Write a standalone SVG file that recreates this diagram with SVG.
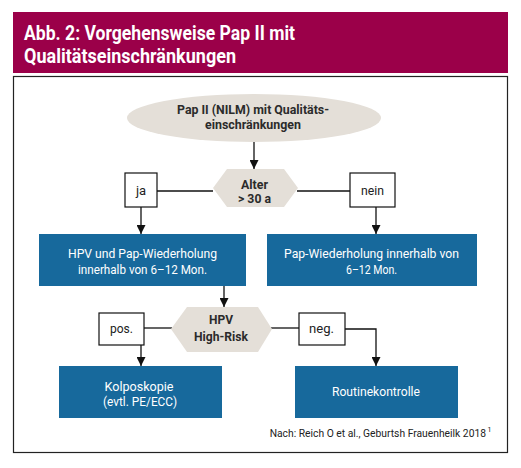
<svg xmlns="http://www.w3.org/2000/svg" width="521" height="468" viewBox="0 0 521 468">
<style>
text{font-family:Roboto,"Liberation Sans",sans-serif}
.t{text-anchor:middle}
.b{font-weight:bold;fill:#2b2b2b;font-size:13px}
.w{fill:#ffffff;font-size:13.5px}
.l{fill:#222;font-size:13px}
.h{font-weight:bold;font-size:19.5px;fill:#fff}
.blue{fill:#17699c}
.grey{fill:#e4dfd8}
.lab{fill:#fff;stroke:#111;stroke-width:1.2}
.ln{stroke:#111;stroke-width:1.3;fill:none}
</style>
<defs>
<marker id="ah" viewBox="0 0 10 10" refX="10" refY="5" markerWidth="9" markerHeight="9" markerUnits="userSpaceOnUse" orient="auto">
<path d="M0,0 L10,5 L0,10 Z" fill="#111"/>
</marker>
</defs>
<rect width="521" height="468" fill="#fff"/>
<g id="header">
<rect x="13" y="12" width="495" height="61" fill="#9b0049"/>
<text class="h" x="24" y="40" textLength="271" lengthAdjust="spacingAndGlyphs">Abb. 2: Vorgehensweise Pap II mit</text>
<text class="h" x="24" y="63" textLength="212" lengthAdjust="spacingAndGlyphs">Qualitätseinschränkungen</text>
</g>
<rect x="13.5" y="76.5" width="494" height="376" fill="none" stroke="#222" stroke-width="1.2"/>
<g id="connectors">
<path class="ln" d="M254,142 V169" marker-end="url(#ah)"/>
<path class="ln" d="M157,191 H213"/>
<path class="ln" d="M297,191 H350"/>
<path class="ln" d="M141,207 V234" marker-end="url(#ah)"/>
<path class="ln" d="M376,207 V234" marker-end="url(#ah)"/>
<path class="ln" d="M224,286 V307" marker-end="url(#ah)"/>
<path class="ln" d="M144,328 H172"/>
<path class="ln" d="M271,328 H299"/>
<path class="ln" d="M141,345 V366" marker-end="url(#ah)"/>
<path class="ln" d="M345,329 H376 V366" marker-end="url(#ah)"/>
</g>
<g id="start">
<ellipse cx="254" cy="118" rx="127" ry="24" class="grey"/>
<text class="t b" x="253" y="114" textLength="152" lengthAdjust="spacingAndGlyphs">Pap II (NILM) mit Qualitäts-</text>
<text class="t b" x="253" y="129" textLength="96" lengthAdjust="spacingAndGlyphs">einschränkungen</text>
</g>
<g id="alter">
<polygon class="grey" points="213,188 227,169 284,169 298,188 284,207 227,207"/>
<text class="t b" x="254.5" y="189" textLength="27" lengthAdjust="spacingAndGlyphs">Alter</text>
<text class="t b" x="254.5" y="203" textLength="33" lengthAdjust="spacingAndGlyphs">&gt; 30 a</text>
</g>
<g id="ja"><rect class="lab" x="125" y="173" width="32" height="34"/><text class="t l" x="141" y="195">ja</text></g>
<g id="nein"><rect class="lab" x="350" y="173" width="45" height="34"/><text class="t l" x="372.5" y="195" textLength="23" lengthAdjust="spacingAndGlyphs">nein</text></g>
<g id="hpvpap">
<rect class="blue" x="39" y="234" width="207" height="52"/>
<text class="t w" x="142.5" y="258" textLength="149" lengthAdjust="spacingAndGlyphs">HPV und Pap-Wiederholung</text>
<text class="t w" x="142.5" y="274" textLength="129" lengthAdjust="spacingAndGlyphs">innerhalb von 6–12 Mon.</text>
</g>
<g id="pap">
<rect class="blue" x="267" y="234" width="210" height="52"/>
<text class="t w" x="371.5" y="258" textLength="175" lengthAdjust="spacingAndGlyphs">Pap-Wiederholung innerhalb von</text>
<text class="t w" x="371.5" y="274" textLength="51" lengthAdjust="spacingAndGlyphs">6–12 Mon.</text>
</g>
<g id="hpv">
<polygon class="grey" points="171,329 187,307 258,307 272,329 258,352 187,352"/>
<text class="t b" x="221" y="324" textLength="24" lengthAdjust="spacingAndGlyphs">HPV</text>
<text class="t b" x="221" y="341" textLength="54" lengthAdjust="spacingAndGlyphs">High-Risk</text>
</g>
<g id="pos"><rect class="lab" x="99" y="313" width="45" height="32"/><text class="t l" x="121.5" y="333" textLength="23" lengthAdjust="spacingAndGlyphs">pos.</text></g>
<g id="neg"><rect class="lab" x="299" y="313" width="46" height="32"/><text class="t l" x="321.5" y="333" textLength="25" lengthAdjust="spacingAndGlyphs">neg.</text></g>
<g id="kolpo">
<rect class="blue" x="59" y="366" width="163" height="52"/>
<text class="t w" x="139" y="391" textLength="69" lengthAdjust="spacingAndGlyphs">Kolposkopie</text>
<text class="t w" x="140" y="406" textLength="74" lengthAdjust="spacingAndGlyphs">(evtl. PE/ECC)</text>
</g>
<g id="routine">
<rect class="blue" x="295" y="366" width="163" height="52"/>
<text class="t w" x="376" y="396" textLength="88" lengthAdjust="spacingAndGlyphs">Routinekontrolle</text>
</g>
<text x="486" y="437" font-size="10.3" fill="#222" text-anchor="end">Nach: Reich O et al., Geburtsh Frauenheilk 2018</text>
<text x="487.5" y="432" font-size="7" fill="#222">1</text>
</svg>
